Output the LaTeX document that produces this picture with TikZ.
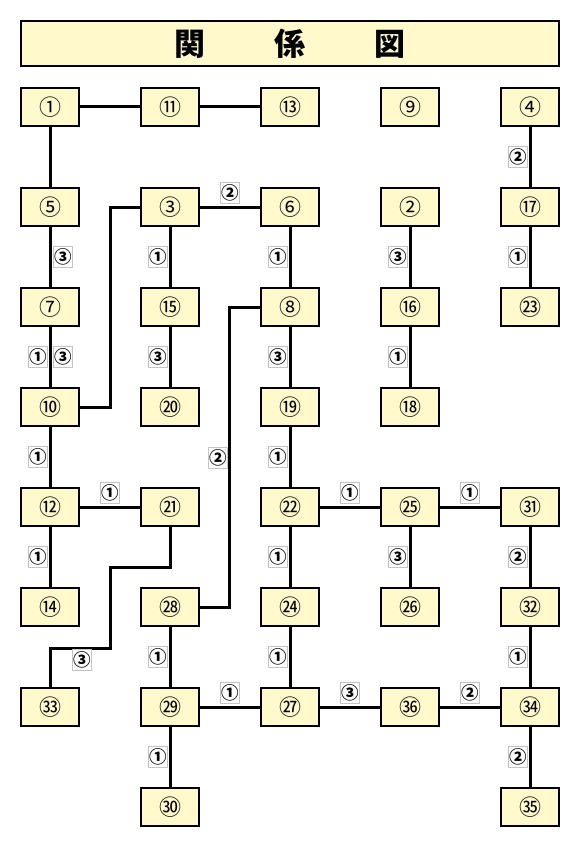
\documentclass[tikz,border=0pt]{standalone}
\usepackage{fontspec}
\newfontfamily\cjk{Noto Sans CJK JP}
\definecolor{boxfill}{HTML}{FFF9CC}
\definecolor{labgray}{HTML}{C4C4C4}
\tikzset{
  box/.style={draw=black, line width=2.5pt, fill=boxfill, minimum width=58pt, minimum height=38pt, inner sep=0pt, font=\cjk\fontsize{22}{22}\selectfont},
  lab/.style={draw=labgray, line width=1pt, fill=white, minimum width=19pt, minimum height=21pt, inner sep=0pt, font=\cjk\bfseries\fontsize{17.5}{17.5}\selectfont},
  conn/.style={line width=3pt, draw=black},
}
\begin{document}
\begin{tikzpicture}[x=1pt,y=-1pt]
\useasboundingbox (0,0) rectangle (581,848);
\node[box, minimum width=538pt, minimum height=45pt, font=\cjk\bfseries\fontsize{31}{31}\selectfont] (title) at (290,43.5) {関\hspace{69pt}係\hspace{69pt}図};
% row 1
\node[box] (n1)  at (50,107)  {①};
\node[box] (n11) at (170,107) {⑪};
\node[box] (n13) at (290,107) {⑬};
\node[box] (n9)  at (410,107) {⑨};
\node[box] (n4)  at (530,107) {④};
% row 2
\node[box] (n5)  at (50,207)  {⑤};
\node[box] (n3)  at (170,207) {③};
\node[box] (n6)  at (290,207) {⑥};
\node[box] (n2)  at (410,207) {②};
\node[box] (n17) at (530,207) {⑰};
% row 3
\node[box] (n7)  at (50,307)  {⑦};
\node[box] (n15) at (170,307) {⑮};
\node[box] (n8)  at (290,307) {⑧};
\node[box] (n16) at (410,307) {⑯};
\node[box] (n23) at (530,307) {㉓};
% row 4
\node[box] (n10) at (50,407)  {⑩};
\node[box] (n20) at (170,407) {⑳};
\node[box] (n19) at (290,407) {⑲};
\node[box] (n18) at (410,407) {⑱};
% row 5
\node[box] (n12) at (50,507)  {⑫};
\node[box] (n21) at (170,507) {㉑};
\node[box] (n22) at (290,507) {㉒};
\node[box] (n25) at (410,507) {㉕};
\node[box] (n31) at (530,507) {㉛};
% row 6
\node[box] (n14) at (50,607)  {⑭};
\node[box] (n28) at (170,607) {㉘};
\node[box] (n24) at (290,607) {㉔};
\node[box] (n26) at (410,607) {㉖};
\node[box] (n32) at (530,607) {㉜};
% row 7
\node[box] (n33) at (50,707)  {㉝};
\node[box] (n29) at (170,707) {㉙};
\node[box] (n27) at (290,707) {㉗};
\node[box] (n36) at (410,707) {㊱};
\node[box] (n34) at (530,707) {㉞};
% row 8
\node[box] (n30) at (170,807) {㉚};
\node[box] (n35) at (530,807) {㉟};
% connectors
\draw[conn] (n1) -- (n11);
\draw[conn] (n11) -- (n13);
\draw[conn] (n1) -- (n5);
\draw[conn] (n4) -- (n17);
\draw[conn] (n3) -- (n6);
\draw[conn] (n5) -- (n7);
\draw[conn] (n3) -- (n15);
\draw[conn] (n6) -- (n8);
\draw[conn] (n2) -- (n16);
\draw[conn] (n17) -- (n23);
\draw[conn] (n7) -- (n10);
\draw[conn] (n15) -- (n20);
\draw[conn] (n8) -- (n19);
\draw[conn] (n16) -- (n18);
\draw[conn] (n10) -- (n12);
\draw[conn] (n19) -- (n22);
\draw[conn] (n12) -- (n21);
\draw[conn] (n22) -- (n25);
\draw[conn] (n25) -- (n31);
\draw[conn] (n12) -- (n14);
\draw[conn] (n22) -- (n24);
\draw[conn] (n25) -- (n26);
\draw[conn] (n31) -- (n32);
\draw[conn] (n28) -- (n29);
\draw[conn] (n24) -- (n27);
\draw[conn] (n32) -- (n34);
\draw[conn] (n29) -- (n27);
\draw[conn] (n27) -- (n36);
\draw[conn] (n36) -- (n34);
\draw[conn] (n29) -- (n30);
\draw[conn] (n34) -- (n35);
\draw[conn] (n10.east) -- ++(30,0) |- (n3.west);
\draw[conn] (n8.west) -- ++(-30,0) |- (n28.east);
\coordinate (k1) at (110,567);
\coordinate (k2) at (110,648);
\draw[conn] (n21.south) |- (k1) -- (k2) -| (n33.north);
% labels
\node[lab] (l1)  at (518,157) {②};
\node[lab] (l2)  at (230,193) {②};
\node[lab] (l3)  at (63,257)  {③};
\node[lab] (l4)  at (158,257) {①};
\node[lab] (l5)  at (278,257) {①};
\node[lab] (l6)  at (398,257) {③};
\node[lab] (l7)  at (518,257) {①};
\node[lab] (l8)  at (38,357)  {①};
\node[lab] (l9)  at (63,357)  {③};
\node[lab] (l10) at (158,357) {③};
\node[lab] (l11) at (278,357) {③};
\node[lab] (l12) at (398,357) {①};
\node[lab] (l13) at (38,457)  {①};
\node[lab] (l14) at (218,458) {②};
\node[lab] (l15) at (278,457) {①};
\node[lab] (l16) at (110,493) {①};
\node[lab] (l17) at (350,493) {①};
\node[lab] (l18) at (470,493) {①};
\node[lab] (l19) at (38,557)  {①};
\node[lab] (l20) at (278,557) {①};
\node[lab] (l21) at (398,557) {③};
\node[lab] (l22) at (518,557) {②};
\node[lab] (l23) at (82,660)  {③};
\node[lab] (l24) at (158,657) {①};
\node[lab] (l25) at (278,657) {①};
\node[lab] (l26) at (518,657) {①};
\node[lab] (l27) at (230,693) {①};
\node[lab] (l28) at (350,693) {③};
\node[lab] (l29) at (470,693) {②};
\node[lab] (l30) at (158,757) {①};
\node[lab] (l31) at (518,757) {②};
\end{tikzpicture}
\end{document}
